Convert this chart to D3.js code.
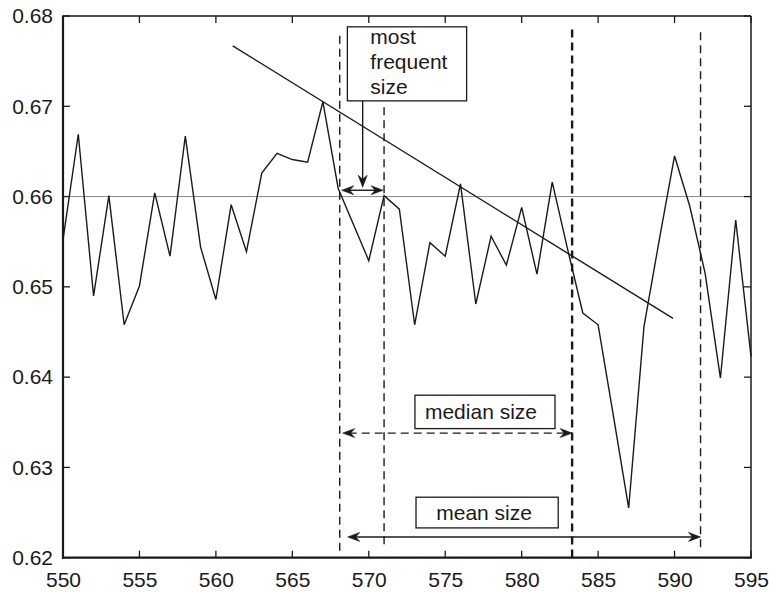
<!DOCTYPE html>
<html>
<head>
<meta charset="utf-8">
<script src="https://cdn.jsdelivr.net/npm/d3@7"></script>
<style>
  html, body { margin: 0; padding: 0; background: #fff; }
  svg { display: block; }
  text { font-family: "Liberation Sans", Arial, Helvetica, sans-serif; fill: #1a1a1a; }
</style>
</head>
<body>
<svg id="chart" width="769" height="592"></svg>
<script>
// Wavelength positions (integer steps) and measured ratio
const positions = d3.range(550, 596);
const ratio = [
  0.6552, 0.6669, 0.6490, 0.6601, 0.6458, 0.6501, 0.6604, 0.6534, 0.6667, 0.6544,
  0.6486, 0.6591, 0.6539, 0.6626, 0.6648, 0.6641, 0.6638, 0.6705, 0.6609, 0.6569,
  0.6529, 0.6601, 0.6586, 0.6458, 0.6549, 0.6534, 0.6614, 0.6481, 0.6556, 0.6524,
  0.6588, 0.6514, 0.6616, 0.6542, 0.6471, 0.6458, 0.6357, 0.6255, 0.6456, 0.6552,
  0.6645, 0.6589, 0.6515, 0.6399, 0.6574, 0.6423
];

// Linear trend segment
const trendX = [561.1, 589.9];
const trendY = [0.6767, 0.6465];

// Reference level
const refLevel = 0.66;

// Size markers
const modeStart = 568.1;
const modeEnd = 571.0;
const medianSize = 583.3;
const meanSize = 591.7;

const xTicks = d3.range(550, 596, 5);
const yTicks = [0.62, 0.63, 0.64, 0.65, 0.66, 0.67, 0.68];

const svg = d3.select("#chart");
const L = 63, R = 751, T = 16, B = 557.7;
const x = d3.scaleLinear().domain([550, 595]).range([L, R]);
const y = d3.scaleLinear().domain([0.62, 0.68]).range([B, T]);
const ink = "#1a1a1a";
const fontSize = 21;

// reference level line
svg.append("line")
  .attr("x1", L).attr("x2", R)
  .attr("y1", y(refLevel)).attr("y2", y(refLevel))
  .attr("stroke", "#8a8a8a").attr("stroke-width", 1);

// data series
const line = d3.line().x((d, i) => x(positions[i])).y(d => y(d));
svg.append("path")
  .datum(ratio)
  .attr("d", line)
  .attr("fill", "none")
  .attr("stroke", ink)
  .attr("stroke-width", 1.4)
  .attr("stroke-linejoin", "miter");

// trend line
svg.append("line")
  .attr("x1", x(trendX[0])).attr("y1", y(trendY[0]))
  .attr("x2", x(trendX[1])).attr("y2", y(trendY[1]))
  .attr("stroke", ink).attr("stroke-width", 1.4);

// vertical dashed markers
const vlines = [
  { v: modeStart, top: 0.6778, bot: 0.6205, w: 1.4 },
  { v: modeEnd, top: 0.6699, bot: 0.6211, w: 1.4 },
  { v: medianSize, top: 0.6785, bot: 0.62, w: 2.4 },
  { v: meanSize, top: 0.6782, bot: 0.6211, w: 1.4 }
];
svg.selectAll(".vmark").data(vlines).join("line")
  .attr("class", "vmark")
  .attr("x1", d => x(d.v)).attr("x2", d => x(d.v))
  .attr("y1", d => y(d.top)).attr("y2", d => y(d.bot))
  .attr("stroke", ink)
  .attr("stroke-width", d => d.w)
  .attr("stroke-dasharray", "8,5");

// arrowhead: tip at (px,py), pointing in direction angle (radians)
function arrowhead(px, py, ang) {
  const len = 12, hw = 4.5, notch = 8;
  const pts = [[0, 0], [-len, -hw], [-notch, 0], [-len, hw]];
  const c = Math.cos(ang), s = Math.sin(ang);
  const p = pts.map(([a, b]) => [px + a * c - b * s, py + a * s + b * c]);
  svg.append("path")
    .attr("d", "M" + p.map(q => q.join(",")).join("L") + "Z")
    .attr("fill", ink).attr("stroke", ink).attr("stroke-width", 0.6);
}

function hArrow(x1, x2, yy, dashed) {
  svg.append("line")
    .attr("x1", x1 + 6).attr("x2", x2 - 6)
    .attr("y1", yy).attr("y2", yy)
    .attr("stroke", ink).attr("stroke-width", 1.4)
    .attr("stroke-dasharray", dashed ? "8,5" : null);
  arrowhead(x2, yy, 0);
  arrowhead(x1, yy, Math.PI);
}

// most frequent size
const modeY = y(0.6607);
hArrow(x(modeStart) + 2, x(modeEnd) - 1, modeY, false);

// median size
const medY = y(0.6338);
hArrow(x(modeStart) + 3, x(medianSize), medY, true);

// mean size
const meanY = y(0.6223);
hArrow(x(modeStart) + 8, x(meanSize), meanY, false);

// label boxes
function box(x0, x1, y0, y1) {
  svg.append("rect")
    .attr("x", x(x0)).attr("y", y(y0))
    .attr("width", x(x1) - x(x0)).attr("height", y(y1) - y(y0))
    .attr("fill", "#fff").attr("stroke", ink).attr("stroke-width", 1.3);
}

// "most frequent size" box with pointer arrow
box(568.6, 576.4, 0.6788, 0.6706);
const ptrX = x(569.6);
svg.append("line")
  .attr("x1", ptrX).attr("x2", ptrX)
  .attr("y1", y(0.6706)).attr("y2", modeY - 8)
  .attr("stroke", ink).attr("stroke-width", 1.4);
arrowhead(ptrX, modeY - 3, Math.PI / 2);
const mfx = x(568.6) + 23;
["most", "frequent", "size"].forEach((t, i) => {
  svg.append("text")
    .attr("x", mfx).attr("y", 44 + i * 24.8)
    .attr("font-size", fontSize)
    .text(t);
});

box(573.02, 582.18, 0.6380, 0.6343);
svg.append("text")
  .attr("x", (x(573.02) + x(582.18)) / 2 - 4).attr("y", 419)
  .attr("text-anchor", "middle").attr("font-size", fontSize)
  .text("median size");

box(573.09, 582.39, 0.6267, 0.6233);
svg.append("text")
  .attr("x", (x(573.09) + x(582.39)) / 2 - 3).attr("y", 519.5)
  .attr("text-anchor", "middle").attr("font-size", fontSize)
  .text("mean size");

// axes frame
const tickLen = 7;
const gx = svg.append("g").attr("transform", `translate(0,${B})`)
  .call(d3.axisBottom(x).tickValues(xTicks).tickSize(0).tickPadding(14));
const gy = svg.append("g").attr("transform", `translate(${L},0)`)
  .call(d3.axisLeft(y).tickValues(yTicks).tickFormat(d3.format(".2f")).tickSize(0).tickPadding(10));
[gx, gy].forEach(g => {
  g.select(".domain").remove();
  g.selectAll("text").attr("font-size", fontSize).attr("fill", ink)
    .style("font-family", '"Liberation Sans", Arial, sans-serif');
});

// inward ticks on all four sides
xTicks.forEach(v => {
  svg.append("line").attr("x1", x(v)).attr("x2", x(v)).attr("y1", B).attr("y2", B - tickLen)
    .attr("stroke", ink).attr("stroke-width", 1.3);
  svg.append("line").attr("x1", x(v)).attr("x2", x(v)).attr("y1", T).attr("y2", T + tickLen)
    .attr("stroke", ink).attr("stroke-width", 1.3);
});
yTicks.forEach(v => {
  svg.append("line").attr("x1", L).attr("x2", L + tickLen).attr("y1", y(v)).attr("y2", y(v))
    .attr("stroke", ink).attr("stroke-width", 1.3);
  svg.append("line").attr("x1", R).attr("x2", R - tickLen).attr("y1", y(v)).attr("y2", y(v))
    .attr("stroke", ink).attr("stroke-width", 1.3);
});

svg.append("line").attr("x1", L).attr("x2", R).attr("y1", T).attr("y2", T)
  .attr("stroke", ink).attr("stroke-width", 1.5);
svg.append("line").attr("x1", R).attr("x2", R).attr("y1", T).attr("y2", B)
  .attr("stroke", ink).attr("stroke-width", 1.5);
svg.append("line").attr("x1", L).attr("x2", L).attr("y1", T - 0.5).attr("y2", B + 1)
  .attr("stroke", ink).attr("stroke-width", 2.2);
svg.append("line").attr("x1", L - 1).attr("x2", R + 0.75).attr("y1", B).attr("y2", B)
  .attr("stroke", ink).attr("stroke-width", 2.2);
</script>
</body>
</html>
